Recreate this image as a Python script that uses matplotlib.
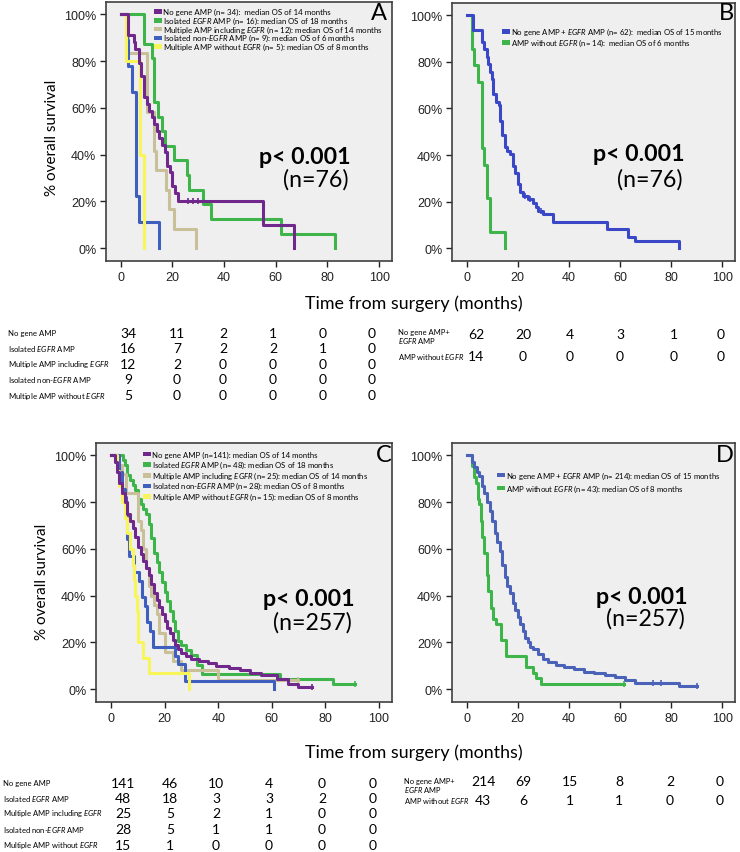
import numpy as np
import matplotlib
matplotlib.use('Agg')
from matplotlib import pyplot as plt
from matplotlib.patches import Rectangle

plt.rcParams['font.family'] = ['Lato', 'DejaVu Sans']
plt.rcParams['mathtext.fontset'] = 'custom'
plt.rcParams['mathtext.rm'] = 'Lato'
plt.rcParams['mathtext.it'] = 'Lato:italic'

W, H = 740, 853

# ============================ DADOS ============================
tempos_risco = [0, 20, 40, 60, 80, 100]

# --- painel A (n=76), 5 grupos
A_nogene_t = [0, 3, 5, 5.5, 7, 8, 9, 10, 11, 12, 13, 14, 15, 16, 17, 18, 19, 20, 21, 22, 55, 67]
A_nogene_s = [100, 91.2, 88.2, 85.3, 79.4, 73.5, 64.7, 61.8, 58.8, 55.9, 52.9, 50.0, 47.1, 44.1, 41.2,
              35.3, 32.4, 26.5, 23.5, 20.0, 10.0, 0]
A_nogene_cens = [26, 28, 30]
A_egfr_t = [0, 9, 12, 13, 14.5, 16, 17, 20.5, 25.5, 26.5, 32, 35, 62, 83]
A_egfr_s = [100, 87.5, 81.25, 62.5, 56.25, 50, 43.75, 37.5, 31.25, 25, 18.75, 12.5, 6.25, 0]
A_multi_t = [0, 3, 10, 13, 13.5, 17.5, 18.5, 20.5, 29]
A_multi_s = [100, 83.3, 58.3, 41.7, 33.3, 25.0, 16.7, 8.3, 0]
A_nonegfr_t = [0, 2.5, 3, 4.5, 6, 7, 15]
A_nonegfr_s = [100, 88.9, 77.8, 66.7, 22.2, 11.1, 0]
A_multino_t = [0, 2, 7.5, 9]
A_multino_s = [100, 80, 40, 0]

# --- painel B (n=76), 2 grupos
B_egfr_t = [0, 2.5, 6, 7, 8, 8.5, 9, 10, 10.5, 11.5, 12.5, 13, 14, 15, 16, 17, 18, 19, 20, 21, 22,
            24, 26, 27, 28, 30, 34, 55, 63, 66, 83]
B_egfr_s = [100, 93.5, 88.7, 85.5, 82.3, 79.0, 75.8, 72.6, 66.1, 62.9, 61.3, 54.8, 48.4, 43.5, 41.9,
            40.3, 35.5, 32.3, 27.4, 24.2, 22.6, 21.0, 19.4, 17.7, 16.1, 14.5, 11.3, 8.1, 4.8, 3.2, 0]
B_egfr_cens = [23, 25, 29]
B_semegfr_t = [0, 2, 3, 4.5, 6, 7, 8, 9, 15]
B_semegfr_s = [100, 85.7, 78.6, 71.4, 42.9, 35.7, 21.4, 7.1, 0]

# --- painel C (n=257), 5 grupos
C_nogene_t = [0, 1.5, 2, 3, 4, 5, 6, 7, 8, 9, 10, 11, 12, 13, 14, 15, 16, 17, 18, 19, 20, 21, 22, 23,
              24, 25, 26, 28, 30, 33, 36, 39, 44, 48, 52, 56, 62, 66, 70]
C_nogene_s = [100, 97, 93, 88, 84, 80, 75, 72, 69, 65, 61, 58, 55, 52, 49, 45, 41, 38, 35, 32, 29, 26,
              24, 21, 19, 17, 15.5, 14, 13, 12, 11, 10, 9, 8, 7, 6, 4.3, 2, 1]
C_nogene_fim = 75
C_egfr_t = [0, 4.5, 5, 6, 7, 8, 9, 10, 11, 12, 13, 14, 15, 16, 17, 18, 19, 20, 21, 22, 23, 24, 25,
            26, 28, 30, 32, 34, 63, 83]
C_egfr_s = [100, 97.9, 95.8, 91.7, 89.6, 87.5, 85.4, 81.3, 79.2, 77.1, 75, 70.8, 64.6, 58.3, 54.2,
            50, 45.8, 41.7, 37.5, 33.3, 29.2, 25, 20.8, 18.8, 16.7, 14.6, 10.4, 6.3, 4.2, 2.1]
C_egfr_fim = 91
C_multi_t = [0, 2.5, 4, 5.5, 10, 11, 12, 13, 14, 15, 16, 17, 18, 20, 23, 26, 40]
C_multi_s = [100, 96, 92, 84, 72, 68, 60, 52, 44, 40, 36, 32, 24, 16, 12, 8, 4]
C_multi_fim = 70
C_nonegfr_t = [0, 3, 4, 5, 5.5, 6, 6.5, 8.5, 10.5, 11.5, 12.5, 13.5, 14.5, 15.5, 24, 25, 27.5, 61]
C_nonegfr_s = [100, 92.9, 85.7, 82.1, 78.6, 64.3, 57.1, 50, 46.4, 39.3, 35.7, 28.6, 25, 17.9, 14.3,
               10.7, 3.6, 0]
C_multino_t = [0, 2, 3, 4, 5, 6, 7, 8, 8.5, 9, 9.5, 10, 12, 14, 29]
C_multino_s = [100, 93.3, 86.7, 80, 73.3, 66.7, 60, 53.3, 46.7, 40, 33.3, 20, 13.3, 6.7, 0]

# --- painel D (n=257), 2 grupos
D_egfr_t = [0, 2.3, 3, 4, 5, 6, 7, 8, 9, 10, 11, 12, 13, 14, 15, 16, 17, 18, 19, 20, 21, 22, 23, 24,
            25, 26, 28, 30, 32, 35, 38, 42, 46, 50, 54, 58, 62, 66, 83]
D_egfr_s = [100, 97, 95, 93, 91, 87, 84, 80, 76, 72, 67, 63, 59, 53, 48, 44, 41, 37, 34, 31, 28, 25,
            22, 20, 18, 17, 15, 13, 11.5, 10.5, 9.5, 8.5, 7.5, 6.8, 6, 5, 4, 2.5, 1.2]
D_egfr_fim = 90
D_egfr_cens = [73, 76]
D_semegfr_t = [0, 2.3, 3, 3.6, 4.5, 5, 5.5, 6.2, 7, 7.8, 8.5, 9.5, 10.5, 11.5, 13.4, 15.4, 23.2,
               25.8, 27, 29]
D_semegfr_s = [100, 95.3, 90.7, 88.4, 81.4, 79.1, 72.1, 65.1, 58.1, 48.8, 41.9, 34.9, 30.2, 27.9,
               20.9, 14, 9.3, 7, 4.7, 2.3]
D_semegfr_fim = 61.6

# --- numeros em risco
risco_A = [[34, 11, 2, 1, 0, 0], [16, 7, 2, 2, 1, 0], [12, 2, 0, 0, 0, 0], [9, 0, 0, 0, 0, 0],
           [5, 0, 0, 0, 0, 0]]
risco_B = [[62, 20, 4, 3, 1, 0], [14, 0, 0, 0, 0, 0]]
risco_C = [[141, 46, 10, 4, 0, 0], [48, 18, 3, 3, 2, 0], [25, 5, 2, 1, 0, 0], [28, 5, 1, 1, 0, 0],
           [15, 1, 0, 0, 0, 0]]
risco_D = [[214, 69, 15, 8, 2, 0], [43, 6, 1, 1, 0, 0]]

grupos5 = ['No gene AMP', r'Isolated $\mathit{EGFR}$ AMP', r'Multiple AMP including $\mathit{EGFR}$',
           r'Isolated non-$\mathit{EGFR}$ AMP', r'Multiple AMP without $\mathit{EGFR}$']
grupos2 = ['No gene AMP+\n' + r'$\mathit{EGFR}$ AMP', r'AMP without $\mathit{EGFR}$']

leg_A = ['No gene AMP (n= 34):  median OS of 14 months',
         r'Isolated $\mathit{EGFR}$ AMP (n= 16): median OS of 18 months',
         r'Multiple AMP including $\mathit{EGFR}$ (n= 12): median OS of 14 months',
         r'Isolated non-$\mathit{EGFR}$ AMP (n= 9): median OS of 6 months',
         r'Multiple AMP without $\mathit{EGFR}$ (n= 5): median OS of 8 months']
leg_B = [r'No gene AMP + $\mathit{EGFR}$ AMP (n= 62):  median OS of 15 months',
         r'AMP without $\mathit{EGFR}$ (n= 14):  median OS of 6 months']
leg_C = ['No gene AMP (n=141): median OS of 14 months',
         r'Isolated $\mathit{EGFR}$ AMP (n= 48): median OS of 18 months',
         r'Multiple AMP including $\mathit{EGFR}$ (n= 25): median OS of 14 months',
         r'Isolated non-$\mathit{EGFR}$ AMP (n= 28): median OS of 8 months',
         r'Multiple AMP without $\mathit{EGFR}$ (n= 15): median OS of 8 months']
leg_D = [r'No gene AMP + $\mathit{EGFR}$ AMP (n= 214): median OS of 15 months',
         r'AMP without $\mathit{EGFR}$ (n= 43): median OS of 8 months']

# cores
ROXO = '#70288C'
VERDE = '#3DB54A'
BEGE = '#C9C09A'
AZUL = '#3F5FBF'
AMARELO = '#F8F55A'
AZUL_B = '#3A48C8'
AZUL_D = '#4A62B8'
cores5 = [ROXO, VERDE, BEGE, AZUL, AMARELO]

# ============================ FUNCOES ============================
fig = plt.figure(figsize=(W / 100, H / 100), dpi=100)
render = fig.canvas.get_renderer()


def px(x, y):
    return x / W, 1 - y / H


def ajusta(textos, largura):
    # escala a fonte para que o texto mais largo ocupe 'largura' pixels
    w = max(t.get_window_extent(render).width for t in textos)
    for t in textos:
        t.set_fontsize(t.get_fontsize() * largura / w)


def eixo(l, t, r, b):
    ax = fig.add_axes([l / W, 1 - b / H, (r - l) / W, (b - t) / H])
    ax.set_facecolor('#EFEFEF')
    ax.set_xlim(-5.7, 105)
    ax.set_ylim(-5.5, 105.3)
    ax.set_xticks(tempos_risco)
    ax.set_yticks([0, 20, 40, 60, 80, 100])
    ax.set_yticklabels(['%d%%' % v for v in [0, 20, 40, 60, 80, 100]])
    for lab in ax.get_xticklabels() + ax.get_yticklabels():
        lab.set_family('Liberation Sans')
    ax.tick_params(direction='out', length=4, width=1, pad=3, labelsize=9, colors='#222222')
    for sp in ax.spines.values():
        sp.set_color('#404040')
        sp.set_linewidth(1.2)
    return ax


def curva(ax, t, s, cor, fim=None, censuras=()):
    tt = list(t)
    ss = list(s)
    if fim is not None:
        tt.append(fim)
        ss.append(s[-1])
        censuras = list(censuras) + [fim]
    ax.step(tt, ss, where='post', color=cor, lw=2.2, zorder=3)
    for c in censuras:
        y = s[np.searchsorted(t, c, side='right') - 1]
        ax.plot(c, y, marker='|', ms=5, mew=1.2, color=cor, zorder=4)


def legenda(x0, y0, dy, rotulos, cores, largura):
    textos = []
    for i in range(len(rotulos)):
        y = y0 + i * dy
        fig.add_artist(Rectangle(px(x0, y + 2.3), 8 / W, 4.6 / H, transform=fig.transFigure,
                                 color=cores[i], lw=0))
        textos.append(fig.text(*px(x0 + 9, y), rotulos[i], fontsize=6, va='center', ha='left'))
    ajusta(textos[:1], largura)
    for t in textos[1:]:
        t.set_fontsize(textos[0].get_fontsize())


def tabela(lx, ly, cols, linhas, rotulos, valores, larg_rotulo):
    textos = []
    for i in range(len(valores)):
        textos.append(fig.text(*px(lx, ly[i]), rotulos[i], fontsize=6, va='center', ha='left',
                               linespacing=1.0))
        for j in range(len(valores[i])):
            fig.text(*px(cols[j], linhas[i]), str(valores[i][j]), fontsize=10, va='center',
                     ha='center')
    ajusta(textos, larg_rotulo)


# ============================ PAINEL A ============================
axA = eixo(106, 3, 392, 262)
curva(axA, A_egfr_t, A_egfr_s, VERDE)
curva(axA, A_multi_t, A_multi_s, BEGE)
curva(axA, A_nonegfr_t, A_nonegfr_s, AZUL)
curva(axA, A_multino_t, A_multino_s, AMARELO)
curva(axA, A_nogene_t, A_nogene_s, ROXO, censuras=A_nogene_cens)
legenda(154, 12.7, 8.7, leg_A, cores5, 167)

# ============================ PAINEL B ============================
axB = eixo(452, 4, 735, 262)
curva(axB, B_semegfr_t, B_semegfr_s, VERDE)
curva(axB, B_egfr_t, B_egfr_s, AZUL_B, censuras=B_egfr_cens)
legenda(502, 32.3, 11, leg_B, [AZUL_B, VERDE], 212)

# ============================ PAINEL C ============================
axC = eixo(96, 444, 392, 703)
curva(axC, C_egfr_t, C_egfr_s, VERDE, fim=C_egfr_fim)
curva(axC, C_multi_t, C_multi_s, BEGE, fim=C_multi_fim)
curva(axC, C_nonegfr_t, C_nonegfr_s, AZUL)
curva(axC, C_multino_t, C_multino_s, AMARELO)
curva(axC, C_nogene_t, C_nogene_s, ROXO, fim=C_nogene_fim)
legenda(143, 455, 10.6, leg_C, cores5, 167)

# ============================ PAINEL D ============================
axD = eixo(452, 444, 735, 703)
curva(axD, D_semegfr_t, D_semegfr_s, VERDE, fim=D_semegfr_fim)
curva(axD, D_egfr_t, D_egfr_s, AZUL_D, fim=D_egfr_fim, censuras=D_egfr_cens)
legenda(497, 476, 13, leg_D, [AZUL_D, VERDE], 215)

# letras, p-valores, rotulos
for letra, x, y in [('A', 379, 13), ('B', 726, 13), ('C', 384, 456), ('D', 725, 456)]:
    fig.text(*px(x, y), letra, fontsize=17, ha='center', va='center')

for xr, yp, yn, n in [(351, 158, 180, '(n=76)'), (685, 155, 180, '(n=76)'),
                      (355, 600, 623, '(n=257)'), (688, 597, 619, '(n=257)')]:
    tp = fig.text(*px(xr, yp), 'p< 0.001', fontsize=16, weight='bold', ha='right', va='center')
    ajusta([tp], 91)
    fig.text(*px(xr - 3, yn), n, fontsize=tp.get_fontsize(), ha='right', va='center')

fig.text(*px(52, 138), '% overall survival', rotation=90, fontsize=11, ha='center', va='center')
fig.text(*px(42, 582), '% overall survival', rotation=90, fontsize=11, ha='center', va='center')
for yt in [304, 753]:
    tt = fig.text(*px(414, yt), 'Time from surgery (months)', fontsize=13, ha='center', va='center')
    ajusta([tt], 217)

# tabelas de numeros em risco
tabela(8, [334, 349, 365, 380, 396], [128, 177, 223, 273, 323, 372], [334, 349, 365, 380, 396],
       grupos5, risco_A, 102)
tabela(398, [338, 357], [476, 523, 570, 620, 674, 721], [335, 357], grupos2, risco_B, 67)
tabela(3, [784, 799, 814, 830, 846], [123, 170, 216, 269, 322, 373], [784, 799, 814, 830, 846],
       grupos5, risco_C, 100)
tabela(404, [787, 801], [483, 523, 570, 619, 670, 720], [782, 801], grupos2, risco_D, 66)

fig.savefig('out.png', dpi=100)
